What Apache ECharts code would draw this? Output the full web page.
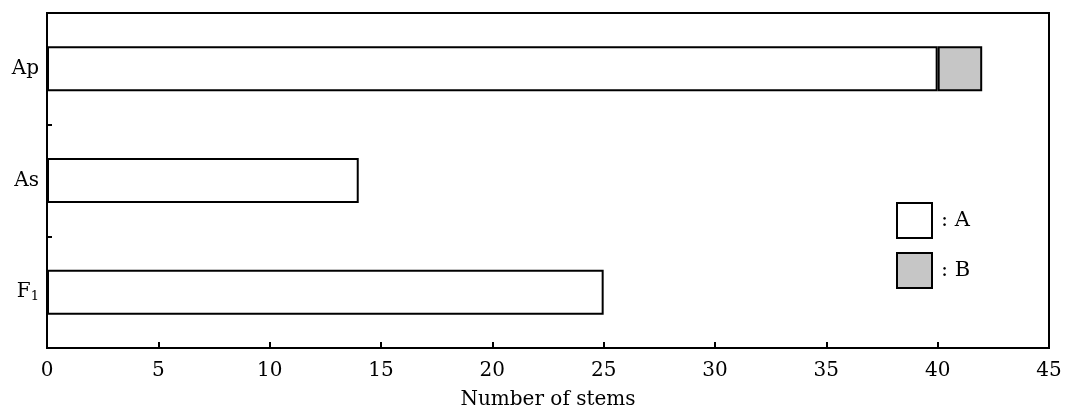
<!DOCTYPE html>
<html>
<head>
<meta charset="utf-8">
<script src="https://cdn.jsdelivr.net/npm/echarts@6/dist/echarts.min.js"></script>
<style>
  html, body { margin: 0; padding: 0; background: #fff; }
  #chart { width: 1066px; height: 417px; }
</style>
</head>
<body>
<div id="chart"></div>
<script>
// categories bottom to top
var categories = ['F1', 'As', 'Ap']
var valuesA = [25, 14, 40]
var valuesB = ['-', '-', 2]
var xTicks = { min: 0, max: 45, interval: 5 }

var font = 'DejaVu Serif'
var chart = echarts.init(document.getElementById('chart'))

chart.setOption({
  animation: false,
  textStyle: { fontFamily: font, color: '#000' },
  grid: {
    left: 47,
    right: 17,
    top: 13,
    bottom: 69,
    show: true,
    borderColor: '#000',
    borderWidth: 2
  },
  legend: {
    orient: 'vertical',
    left: 891,
    top: 197,
    itemWidth: 35,
    itemHeight: 35,
    itemGap: 13,
    icon: 'rect',
    formatter: ': {name}',
    textStyle: { fontFamily: font, fontSize: 21, color: '#000', padding: [0, 0, 0, 4] },
    data: ['A', 'B']
  },
  xAxis: {
    type: 'value',
    min: xTicks.min,
    max: xTicks.max,
    interval: xTicks.interval,
    name: 'Number of stems',
    nameLocation: 'middle',
    nameGap: 42,
    nameTextStyle: { fontFamily: font, fontSize: 20, color: '#000' },
    axisLine: { show: true, lineStyle: { color: '#000', width: 2 } },
    axisTick: { show: true, inside: true, length: 6, lineStyle: { color: '#000', width: 2 } },
    axisLabel: { fontFamily: font, fontSize: 20, color: '#000', margin: 13 },
    splitLine: { show: false }
  },
  yAxis: {
    type: 'category',
    data: categories,
    axisLine: { show: true, lineStyle: { color: '#000', width: 2 } },
    axisTick: { show: true, inside: true, length: 5, lineStyle: { color: '#000', width: 2 } },
    axisLabel: {
      fontFamily: font,
      fontSize: 20,
      color: '#000',
      margin: 8,
      formatter: function(v) {
        return v === 'F1' ? 'F{sub|1}' : v
      },
      rich: {
        sub: { fontFamily: font, fontSize: 13, color: '#000', verticalAlign: 'bottom', padding: [8, 0, 0, 0] }
      }
    }
  },
  series: [
    {
      name: 'A',
      type: 'bar',
      stack: 'total',
      barWidth: 45,
      data: valuesA,
      itemStyle: { color: '#fff', borderColor: '#000', borderWidth: 2 }
    },
    {
      name: 'B',
      type: 'bar',
      stack: 'total',
      barWidth: 45,
      data: valuesB,
      itemStyle: { color: '#c6c6c6', borderColor: '#000', borderWidth: 2 }
    }
  ]
})
</script>
</body>
</html>
